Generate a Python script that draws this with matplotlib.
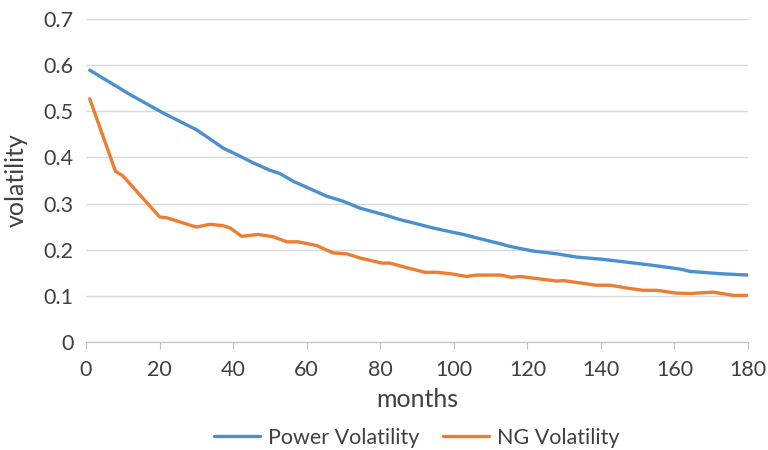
import matplotlib
matplotlib.use("Agg")
import matplotlib.pyplot as plt

# volatility term structure, read at uneven month steps
power_months = [1, 12, 21, 30, 33.7, 37.3, 41, 45.5, 50, 52.7, 56.4, 60.9, 65.4, 69.9, 74.5,
                80.9, 85.4, 89, 94.4, 99, 102.6, 108, 112.6, 115.3, 121.6, 128, 133.4,
                140.6, 147, 154.2, 161.5, 164.2, 172.4, 180]
power_vol = [0.589, 0.536, 0.496, 0.46, 0.44, 0.42, 0.406, 0.388, 0.372, 0.365, 0.348, 0.332,
             0.316, 0.305, 0.29, 0.276, 0.265, 0.258, 0.247, 0.239, 0.233, 0.222, 0.213,
             0.207, 0.197, 0.191, 0.184, 0.179, 0.173, 0.166, 0.158, 0.153, 0.148, 0.145]

ng_months = [1, 8, 10, 20, 22, 25.6, 30, 33.7, 37.3, 39.2, 42.3, 46.8, 50.9, 54.6, 57.7, 62.7,
             67.2, 70.9, 74.5, 80.4, 82.6, 87.2, 92.2, 95.4, 99, 103.5, 106.2, 112.6, 113.4,
             115.7, 118, 128, 129.8, 138.8, 142.5, 147, 151.5, 155.1, 160.5, 164.2, 170.5,
             176, 180]
ng_vol = [0.527, 0.37, 0.36, 0.271, 0.269, 0.26, 0.249, 0.255, 0.252, 0.247, 0.229, 0.233,
          0.228, 0.217, 0.217, 0.209, 0.193, 0.191, 0.182, 0.171, 0.171, 0.161, 0.151, 0.151,
          0.148, 0.142, 0.145, 0.145, 0.144, 0.14, 0.142, 0.132, 0.133, 0.123, 0.123, 0.117,
          0.112, 0.112, 0.106, 0.105, 0.108, 0.101, 0.101]

x_ticks = list(range(0, 181, 20))
y_ticks = [0, 0.1, 0.2, 0.3, 0.4, 0.5, 0.6, 0.7]

plt.rcParams['font.family'] = ['Lato', 'DejaVu Sans']
text_color = '#404040'

fig = plt.figure(figsize=(7.68, 4.5), dpi=100)
ax = fig.add_axes([0.112, 0.24, 0.862, 0.718])

ax.plot(power_months, power_vol, color='#4A90D0', lw=2.4, label='Power Volatility', solid_capstyle='round')
ax.plot(ng_months, ng_vol, color='#ED7D31', lw=2.4, label='NG Volatility', solid_capstyle='round')

ax.set_xlim(0, 180)
ax.set_ylim(0, 0.7)
ax.set_xticks(x_ticks)
ax.set_yticks(y_ticks)
ax.set_yticklabels(['0'] + [f"{v:.1f}" for v in y_ticks[1:]])
ax.grid(axis='y', color='#D9D9D9', lw=1)
ax.set_axisbelow(True)

for side in ['top', 'right', 'left']:
    ax.spines[side].set_visible(False)
ax.spines['bottom'].set_color('#BFBFBF')
ax.tick_params(axis='x', length=5, color='#BFBFBF', labelsize=15.5, labelcolor=text_color, pad=8)
ax.tick_params(axis='y', length=0, labelsize=15.5, labelcolor=text_color, pad=9)

ax.set_xlabel('months', fontsize=18, color=text_color, labelpad=6)
ax.set_ylabel('volatility', fontsize=18, color=text_color, labelpad=11)

ax.legend(loc='center', bbox_to_anchor=(0.5, -0.297), ncol=2, frameon=False,
          fontsize=15.5, handlelength=2.1, handletextpad=0.4, columnspacing=1.1,
          labelcolor=text_color)

fig.savefig('out.png', dpi=100)
